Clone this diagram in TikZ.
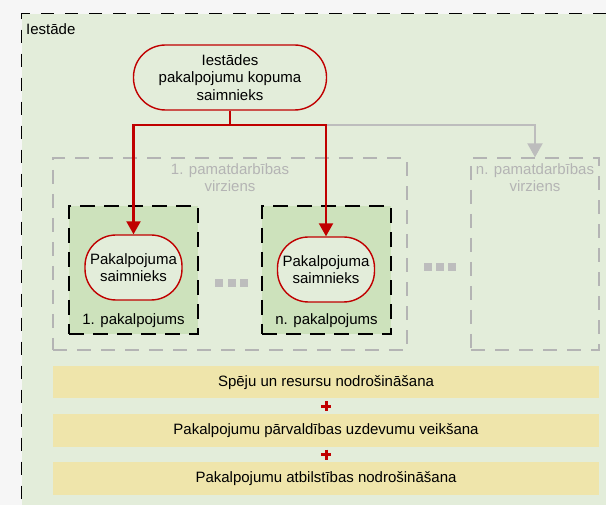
\documentclass[tikz,border=0pt]{standalone}
\usepackage{fontspec}
\setmainfont{Liberation Sans}
\usetikzlibrary{positioning,arrows.meta,calc}

\definecolor{pagegray}{HTML}{F6F6F6}
\definecolor{framegreen}{HTML}{E3EDDA}
\definecolor{svcgreen}{HTML}{CDE2BC}
\definecolor{baryellow}{HTML}{EFE5AB}
\definecolor{ownred}{HTML}{C00000}
\definecolor{dirgray}{HTML}{B4B4B4}
\definecolor{dotgray}{HTML}{BDBDBD}

\tikzset{
  frame/.style={draw=black,fill=framegreen,line width=1.3pt,dash pattern=on 13pt off 11pt},
  owner/.style={draw=ownred,fill=framegreen,line width=1.4pt,align=center,inner sep=0pt},
  dir/.style={draw=dirgray,line width=1.4pt,dash pattern=on 14pt off 10pt},
  svc/.style={draw=black,fill=svcgreen,line width=1.4pt,dash pattern=on 15pt off 9pt},
  bar/.style={fill=baryellow,minimum width=546pt,inner sep=0pt},
  redarrow/.style={draw=ownred,line width=2.2pt,-{Triangle[width=14pt,length=13pt]}},
  grayarrow/.style={draw=dotgray,line width=2.2pt,-{Triangle[width=15pt,length=14pt]}},
  plussign/.style={draw=ownred,line width=3pt}
}

\begin{document}
\begin{tikzpicture}[x=1pt,y=-1pt,font=\fontsize{15}{17.5}\selectfont]
  \useasboundingbox (0,0) rectangle (606,505);
  \fill[pagegray] (0,0) rectangle (606,505);

  \begin{scope}
    \clip (0,0) rectangle (606,505);
    \node[frame,anchor=north west,minimum width=620pt,minimum height=520pt] (iestade) at (21,13) {};
  \end{scope}
  \node[anchor=base west,inner sep=0pt] (iestadelbl) at (26,35) {Iestāde};

  \node[owner,minimum width=193pt,minimum height=65pt,rounded corners=32pt] (owner) at (230,77.5)
    {Iestādes\\pakalpojumu kopuma\\saimnieks};

  \node[dir,minimum width=354pt,minimum height=192pt] (dir1) at (230,254) {};
  \node[dir,minimum width=128pt,minimum height=192pt] (dirn) at (535,254) {};
  \node[align=center,text=dirgray,inner sep=2pt,below=4pt of dir1.north] (dir1lbl) {1. pamatdarbības\\virziens};
  \node[align=center,text=dirgray,inner sep=2pt,below=4pt of dirn.north] (dirnlbl) {n. pamatdarbības\\virziens};

  \node[svc,minimum width=129pt,minimum height=128pt] (svc1) at (133.5,270) {};
  \node[svc,minimum width=129pt,minimum height=128pt] (svcn) at (326.5,270) {};
  \node[anchor=base,inner sep=0pt] (svc1lbl) at ($(svc1.south)+(0,-10)$) {1. pakalpojums};
  \node[anchor=base,inner sep=0pt] (svcnlbl) at ($(svcn.south)+(0,-10)$) {n. pakalpojums};

  \node[owner,minimum width=97pt,minimum height=65pt,rounded corners=31pt] (own1) at (133.5,267.5) {Pakalpojuma\\saimnieks};
  \node[owner,minimum width=97pt,minimum height=65pt,rounded corners=31pt] (ownn) at (326,269.5) {Pakalpojuma\\saimnieks};

  \foreach \x in {215,228,240} \fill[dotgray] (\x,279) rectangle ++(8,8);
  \foreach \x in {424,436,448} \fill[dotgray] (\x,263) rectangle ++(8,8);

  \coordinate (split) at (230,125);
  \draw[grayarrow] (ownn.north |- split) -| (dirn.north);
  \draw[ownred,line width=2.2pt] (owner.south) -- (split);
  \draw[redarrow] (split) -| (own1.north);
  \draw[redarrow] (split) -| (ownn.north);

  \node[bar,minimum height=32pt] (bar1) at (326,382.5) {Spēju un resursu nodrošināšana};
  \node[bar,minimum height=33pt,below=15pt of bar1] (bar2) {Pakalpojumu pārvaldības uzdevumu veikšana};
  \node[bar,minimum height=33pt,below=15pt of bar2] (bar3) {Pakalpojumu atbilstības nodrošināšana};

  \draw[plussign] ($(bar1.south)!0.5!(bar2.north)$) +(-5,0) -- +(5,0) +(0,-5) -- +(0,5);
  \draw[plussign] ($(bar2.south)!0.5!(bar3.north)$) +(-5,0) -- +(5,0) +(0,-5) -- +(0,5);
\end{tikzpicture}
\end{document}
